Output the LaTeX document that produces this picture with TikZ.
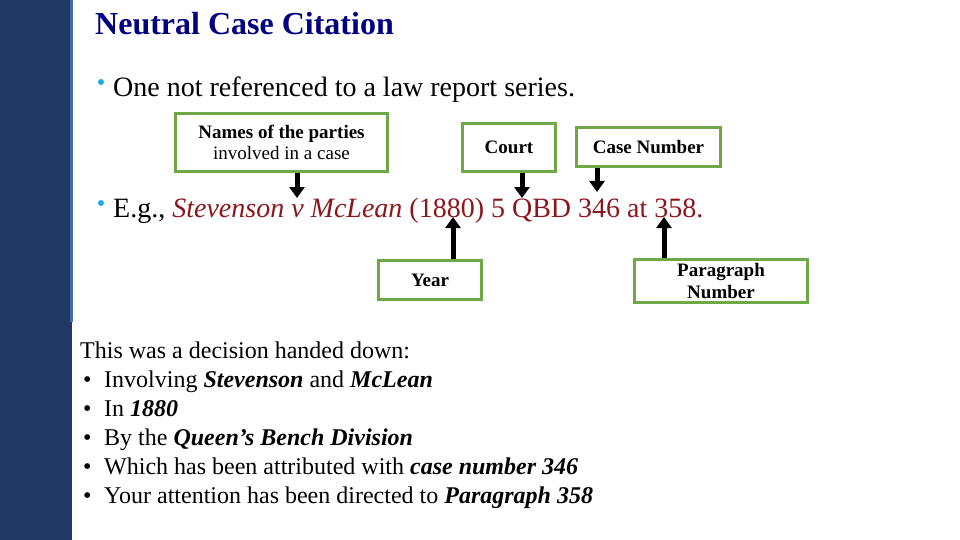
\documentclass[tikz,border=0pt]{standalone}
\usepackage{fontspec}
\setmainfont{Liberation Serif}
\usetikzlibrary{arrows.meta, positioning}
\definecolor{barblue}{RGB}{31,56,100}
\definecolor{baredge}{RGB}{70,110,160}
\definecolor{titlenavy}{RGB}{0,0,128}
\definecolor{citered}{RGB}{140,22,28}
\definecolor{boxgreen}{RGB}{112,168,72}
\definecolor{dotblue}{RGB}{30,170,230}

\begin{document}
\begin{tikzpicture}[x=1pt,y=-1pt,
	partbox/.style={draw=boxgreen, line width=3pt, fill=white, align=center,
		inner sep=0pt, font=\fontsize{19}{21.5}\selectfont\bfseries},
	pointer/.style={line width=5pt, -{Triangle[width=15pt,length=11pt]}},
	plain/.style={anchor=base west, inner sep=0pt}]
	\useasboundingbox (0,0) rectangle (960,540);
	\fill[barblue] (0,0) rectangle (72,540);
	\fill[baredge] (70,0) rectangle (73,322);
	
	% title and bullet points
	\node[plain, font=\fontsize{32}{36}\selectfont\bfseries, text=titlenavy] (title) at (95,35) {Neutral Case Citation};
	\fill[dotblue] (101,82) circle (3pt);
	\node[plain, font=\fontsize{28}{32}\selectfont] (refline) at (113,97) {One not referenced to a law report series.};
	\fill[dotblue] (101,203) circle (3pt);
	\node[plain, font=\fontsize{28}{32}\selectfont] (egline) at (113,217)
		{E.g., \textcolor{citered}{\textit{Stevenson v McLean} (1880) 5 QBD 346 at 358.}};
	
	% labels round the citation
	\node[partbox, minimum width=212pt, minimum height=58pt] (parties) at (281.5,142.5)
		{Names of the parties\\\mdseries involved in a case};
	\node[partbox, minimum width=93pt, minimum height=48pt] (court) at (509,147.5) {Court};
	\node[partbox, minimum width=144pt, minimum height=39pt] (casenum) at (648.5,147) {Case Number};
	\node[partbox, minimum width=103pt, minimum height=39pt] (year) at (430,280) {Year};
	\node[partbox, minimum width=173pt, minimum height=43pt] (para) at (721,281) {Paragraph\\Number};
	
	\coordinate (partiestip) at (297,198);
	\coordinate (courttip) at (522,198);
	\coordinate (casetip) at (597,192);
	\coordinate (yeartip) at (453,217);
	\coordinate (paratip) at (664,217);
	\draw[pointer] (partiestip |- parties.south) -- (partiestip);
	\draw[pointer] (courttip |- court.south) -- (courttip);
	\draw[pointer] (casetip |- casenum.south) -- (casetip);
	\draw[pointer] (yeartip |- year.north) -- (yeartip);
	\draw[pointer] (paratip |- para.north) -- (paratip);
	
	% summary
	\node[plain, font=\fontsize{24}{29}\selectfont] (summary) at (80,358) {This was a decision handed down:};
	\foreach \txt [count=\i] in {{Involving \textbf{\textit{Stevenson}} and \textbf{\textit{McLean}}},
		{In \textbf{\textit{1880}}},
		{By the \textbf{\textit{Queen’s Bench Division}}},
		{Which has been attributed with \textbf{\textit{case number 346}}},
		{Your attention has been directed to \textbf{\textit{Paragraph 358}}}}
	{
		\node[plain, font=\fontsize{24}{29}\selectfont] (dot\i) at (83,358+29*\i) {\textbullet};
		\node[plain, font=\fontsize{24}{29}\selectfont] (item\i) at (104,358+29*\i) {\txt};
	}
\end{tikzpicture}
\end{document}
